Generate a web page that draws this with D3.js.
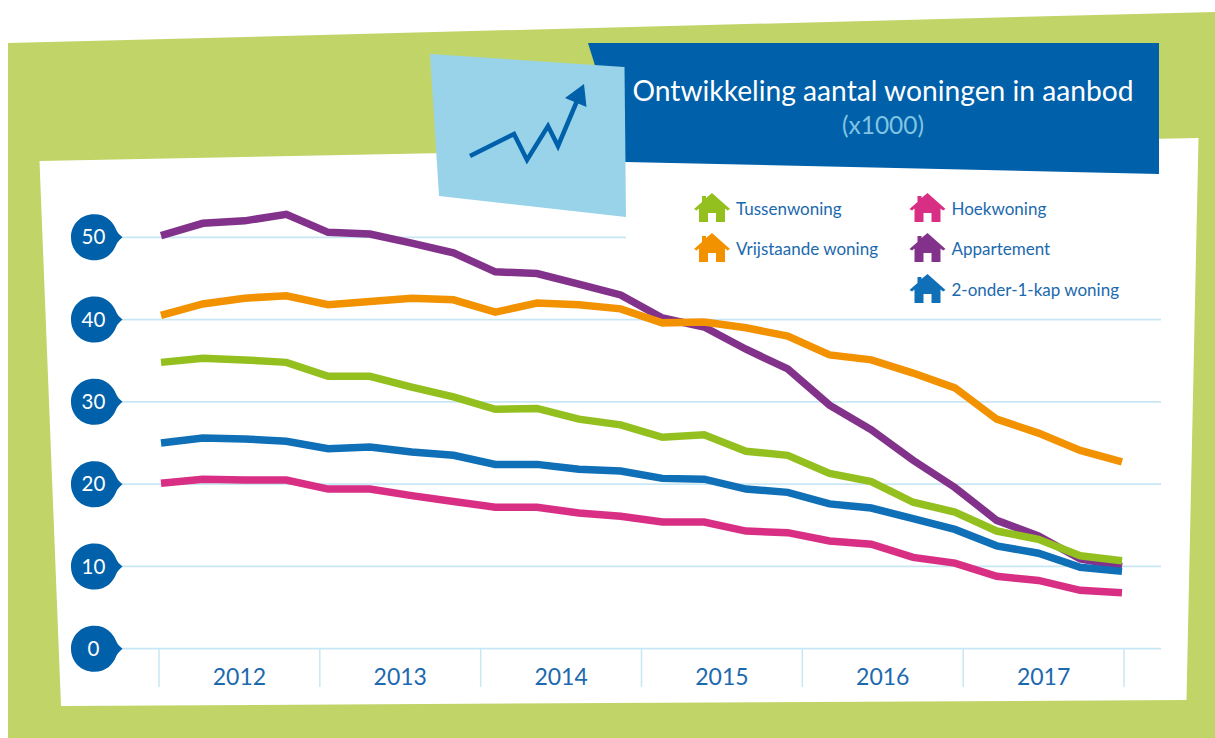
<!DOCTYPE html>
<html>
<head>
<meta charset="utf-8">
<script src="https://cdn.jsdelivr.net/npm/d3@7"></script>
<style>
  html, body { margin: 0; padding: 0; background: #fff; }
  svg { display: block; }
  text { font-family: Lato, "Open Sans", sans-serif; }
</style>
</head>
<body>
<svg id="container" width="1215" height="738"></svg>
<script>
const years = ["2012", "2013", "2014", "2015", "2016", "2017"];
const yTicks = [0, 10, 20, 30, 40, 50];

// one value per quarter, 2012 Q1 to 2017 Q4 (x1000)
const tussenwoning = [34.8, 35.3, 35.1, 34.8, 33.1, 33.1, 31.8, 30.6, 29.1, 29.2, 27.9, 27.2, 25.7, 26.0, 24.0, 23.5, 21.3, 20.3, 17.8, 16.6, 14.3, 13.3, 11.3, 10.7];
const vrijstaand = [40.5, 41.9, 42.6, 42.9, 41.8, 42.2, 42.6, 42.4, 40.9, 42.0, 41.8, 41.3, 39.6, 39.7, 39.0, 38.0, 35.7, 35.1, 33.5, 31.7, 27.9, 26.2, 24.1, 22.7];
const hoekwoning = [20.1, 20.6, 20.5, 20.5, 19.4, 19.4, 18.6, 17.9, 17.2, 17.2, 16.5, 16.1, 15.4, 15.4, 14.3, 14.1, 13.1, 12.7, 11.1, 10.4, 8.8, 8.3, 7.1, 6.8];
const appartement = [50.2, 51.7, 52.0, 52.8, 50.6, 50.4, 49.3, 48.1, 45.8, 45.6, 44.3, 43.0, 40.2, 39.1, 36.4, 34.0, 29.6, 26.6, 22.9, 19.6, 15.6, 13.7, 10.9, 10.0];
const tweeOnderEen = [25.0, 25.6, 25.5, 25.2, 24.3, 24.5, 23.9, 23.5, 22.4, 22.4, 21.8, 21.6, 20.7, 20.6, 19.4, 19.0, 17.6, 17.1, 15.8, 14.5, 12.5, 11.6, 9.9, 9.4];

const green = "#93c01f";
const orange = "#f39200";
const pink = "#d82f84";
const purple = "#82328a";
const blue = "#0f6fb7";
const navy = "#0060a9";

const svg = d3.select("#container");

const poly = (points, fill) => svg.append("polygon").attr("points", points).attr("fill", fill);

// sheets behind the chart
poly("8,43 1215,12 1215,738 8,738", "#c0d468");
poly("39.5,161 1198.5,138 1186.5,700 61,706", "#ffffff");
poly("588,43 1159,43 1159,174 625,162", navy);

const x = d3.scaleLinear().domain([0, 23]).range([161, 1122]);
const xYear = d3.scaleBand().domain(years).range([159, 1124]);
const y = d3.scaleLinear().domain([0, 50]).range([648.7, 237.3]);

// gridlines, the top one stops at the blue card
svg
  .selectAll(".grid")
  .data(yTicks)
  .enter()
  .append("line")
  .attr("class", "grid")
  .attr("x1", 120)
  .attr("x2", (tick) => (tick === 50 ? 626 : 1161))
  .attr("y1", (tick) => y(tick))
  .attr("y2", (tick) => y(tick))
  .attr("stroke", "#c8e7f4")
  .attr("stroke-width", 1.8);

// year separators
svg
  .selectAll(".yearTick")
  .data(years.concat("end"))
  .enter()
  .append("line")
  .attr("class", "yearTick")
  .attr("x1", (year, i) => xYear.range()[0] + i * xYear.step())
  .attr("x2", (year, i) => xYear.range()[0] + i * xYear.step())
  .attr("y1", y(0))
  .attr("y2", 687)
  .attr("stroke", "#c8e7f4")
  .attr("stroke-width", 1.5);

const yearAxis = svg
  .append("g")
  .attr("transform", "translate(0,667)")
  .call(d3.axisBottom(xYear).tickSize(0).tickPadding(0));
yearAxis.select(".domain").remove();
yearAxis
  .selectAll("text")
  .attr("dy", "0.32em")
  .attr("y", 11)
  .attr("font-size", 23)
  .attr("fill", "#1b69ae")
  .style("font-family", "Lato, sans-serif");

// drop shaped value labels
const bubbles = svg
  .selectAll(".bubble")
  .data(yTicks)
  .enter()
  .append("g")
  .attr("class", "bubble")
  .attr("transform", (tick) => `translate(94,${y(tick)})`);
bubbles
  .append("path")
  .attr("d", "M0,-23 C13,-23 19,-15 22,-8 C23,-5 26,-2 28.5,0 C26,2 23,5 22,8 C19,15 13,23 0,23 C-13,23 -23,13 -23,0 C-23,-13 -13,-23 0,-23 Z")
  .attr("fill", navy);
bubbles
  .append("text")
  .attr("text-anchor", "middle")
  .attr("dy", "0.35em")
  .attr("x", -0.5)
  .attr("font-size", 20.5)
  .attr("fill", "#ffffff")
  .text((tick) => tick);

// series, in the order they overlap
const series = [
  { values: appartement, color: purple },
  { values: vrijstaand, color: orange },
  { values: tussenwoning, color: green },
  { values: tweeOnderEen, color: blue },
  { values: hoekwoning, color: pink },
];

const line = d3
  .line()
  .x((value, i) => x(i))
  .y((value) => y(value));

svg
  .selectAll(".series")
  .data(series)
  .enter()
  .append("path")
  .attr("class", "series")
  .attr("fill", "none")
  .attr("stroke", (s) => s.color)
  .attr("stroke-width", 7.5)
  .attr("stroke-linejoin", "miter")
  .attr("d", (s) => line(s.values));

// light blue card with the little arrow
poly("430,54 624.5,67 626,217 439,196", "#99d3e9");
svg
  .append("path")
  .attr("d", "M470,156 L514,134 L527,160 L548,126 L558,146 L577,101")
  .attr("fill", "none")
  .attr("stroke", navy)
  .attr("stroke-width", 4.5);
poly("584,84 565,98 586.5,107", navy);

svg
  .append("text")
  .attr("x", 883)
  .attr("y", 101)
  .attr("text-anchor", "middle")
  .attr("font-size", 28.2)
  .attr("fill", "#ffffff")
  .text("Ontwikkeling aantal woningen in aanbod");
svg
  .append("text")
  .attr("x", 883)
  .attr("y", 134)
  .attr("text-anchor", "middle")
  .attr("font-size", 24.5)
  .attr("fill", "#7fc4e2")
  .text("(x1000)");

// legend
const legendLabels = ["Tussenwoning", "Vrijstaande woning", "Hoekwoning", "Appartement", "2-onder-1-kap woning"];
const legendColors = [green, orange, pink, purple, blue];
const legendCols = [712, 712, 927.5, 927.5, 927.5];
const legendRows = [208, 248, 208, 248, 289];

const legend = svg
  .selectAll(".legend")
  .data(legendLabels)
  .enter()
  .append("g")
  .attr("class", "legend")
  .attr("transform", (label, i) => `translate(${legendCols[i]},${legendRows[i]})`);
legend
  .append("path")
  .attr("d", "M0,-15 L18,1 L15.5,2.5 L13,0.5 L13,14 L-13,14 L-13,0.5 L-15.5,2.5 L-18,1 L-10,-6 L-10,-12 L-6,-12 L-6,-10 Z")
  .attr("fill", (label, i) => legendColors[i]);
legend
  .append("rect")
  .attr("x", -4)
  .attr("y", 5)
  .attr("width", 8)
  .attr("height", 9)
  .attr("fill", "#ffffff");
legend
  .append("text")
  .attr("x", 24)
  .attr("y", 7)
  .attr("font-size", 17)
  .attr("fill", "#1b69ae")
  .text((label) => label);
</script>
</body>
</html>
